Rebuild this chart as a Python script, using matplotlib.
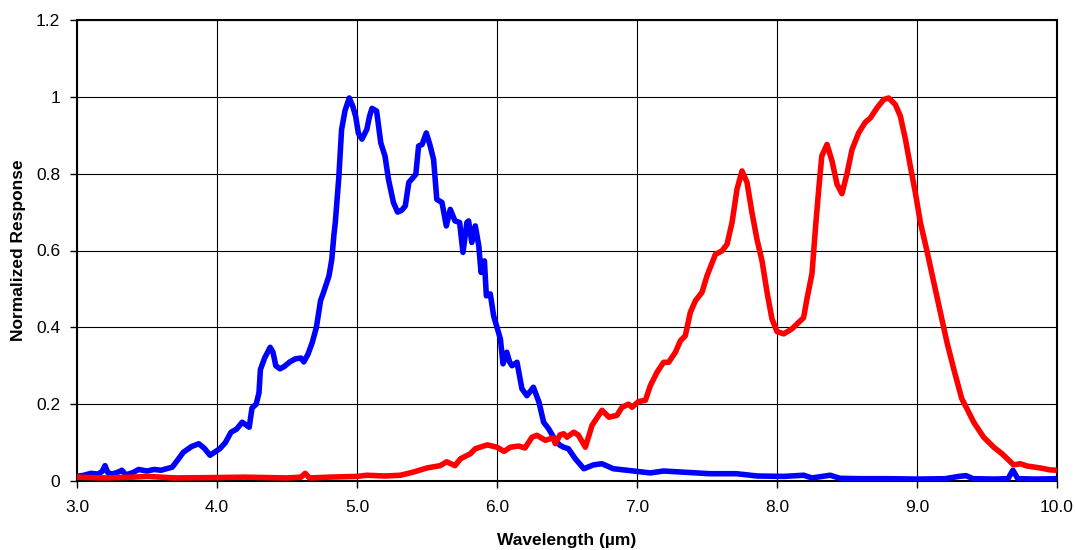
import matplotlib
matplotlib.use("Agg")
import matplotlib.pyplot as plt

plt.rcParams['font.family'] = ['Liberation Sans', 'DejaVu Sans']

blue_x = [3.00, 3.05, 3.10, 3.15, 3.18, 3.20, 3.22, 3.25, 3.30, 3.32, 3.35, 3.40, 3.44, 3.50, 3.55,
          3.60, 3.68, 3.72, 3.76, 3.82, 3.87, 3.91, 3.95, 4.02, 4.06, 4.10, 4.14, 4.18, 4.23, 4.25,
          4.28, 4.30, 4.31, 4.34, 4.38, 4.40, 4.42, 4.45, 4.48, 4.52, 4.56, 4.60, 4.62, 4.65, 4.68,
          4.71, 4.74, 4.76, 4.80, 4.82, 4.835, 4.845, 4.87, 4.89, 4.915, 4.945, 4.97, 4.99, 5.01,
          5.035, 5.07, 5.09, 5.107, 5.14, 5.17, 5.20, 5.225, 5.26, 5.29, 5.32, 5.345, 5.37, 5.42,
          5.44, 5.465, 5.495, 5.52, 5.547, 5.57, 5.607, 5.638, 5.666, 5.70, 5.733, 5.757, 5.785,
          5.797, 5.82, 5.845, 5.87, 5.886, 5.91, 5.924, 5.952, 5.976, 6.00, 6.024, 6.043, 6.07,
          6.09, 6.107, 6.143, 6.178, 6.214, 6.26, 6.30, 6.333, 6.369, 6.416, 6.45, 6.476, 6.51,
          6.559, 6.62, 6.69, 6.75, 6.83, 6.93, 7.00, 7.095, 7.19, 7.33, 7.52, 7.71, 7.86, 8.05,
          8.19, 8.25, 8.38, 8.45, 8.6, 8.8, 9.0, 9.2, 9.30, 9.35, 9.40, 9.55, 9.65, 9.685, 9.72,
          9.85, 10.0]
blue_y = [0.012, 0.015, 0.020, 0.018, 0.025, 0.040, 0.022, 0.018, 0.024, 0.028, 0.016, 0.022, 0.030,
          0.026, 0.030, 0.028, 0.036, 0.055, 0.075, 0.090, 0.097, 0.085, 0.067, 0.084, 0.100, 0.127,
          0.135, 0.153, 0.140, 0.190, 0.200, 0.230, 0.290, 0.320, 0.348, 0.335, 0.300, 0.292, 0.298,
          0.310, 0.318, 0.320, 0.310, 0.330, 0.360, 0.400, 0.470, 0.490, 0.534, 0.577, 0.640, 0.673,
          0.790, 0.915, 0.965, 0.997, 0.975, 0.950, 0.905, 0.890, 0.915, 0.950, 0.970, 0.963, 0.880,
          0.846, 0.785, 0.725, 0.700, 0.705, 0.716, 0.777, 0.798, 0.872, 0.876, 0.906, 0.876, 0.837,
          0.733, 0.725, 0.664, 0.707, 0.677, 0.673, 0.595, 0.673, 0.677, 0.621, 0.664, 0.612, 0.543,
          0.573, 0.482, 0.487, 0.430, 0.400, 0.370, 0.305, 0.335, 0.310, 0.300, 0.309, 0.240, 0.222,
          0.244, 0.205, 0.153, 0.136, 0.106, 0.093, 0.088, 0.084, 0.058, 0.032, 0.042, 0.045, 0.032,
          0.028, 0.025, 0.021, 0.026, 0.023, 0.019, 0.019, 0.013, 0.012, 0.015, 0.008, 0.015, 0.007,
          0.006, 0.006, 0.005, 0.006, 0.012, 0.014, 0.006, 0.005, 0.006, 0.028, 0.006, 0.005, 0.006]

red_x = [3.00, 3.2, 3.4, 3.5, 3.7, 4.0, 4.2, 4.5, 4.6, 4.63, 4.66, 4.8, 5.0, 5.07, 5.2, 5.31, 5.40,
         5.50, 5.595, 5.64, 5.70, 5.74, 5.81, 5.845, 5.93, 6.00, 6.05, 6.095, 6.155, 6.20, 6.25,
         6.285, 6.345, 6.40, 6.417, 6.45, 6.476, 6.50, 6.548, 6.58, 6.631, 6.679, 6.75, 6.80, 6.857,
         6.893, 6.94, 6.964, 7.012, 7.06, 7.095, 7.143, 7.19, 7.226, 7.274, 7.31, 7.345, 7.381,
         7.417, 7.464, 7.50, 7.56, 7.607, 7.643, 7.679, 7.714, 7.75, 7.786, 7.821, 7.857, 7.893,
         7.929, 7.964, 8.00, 8.048, 8.107, 8.155, 8.19, 8.214, 8.25, 8.274, 8.298, 8.32, 8.357,
         8.393, 8.429, 8.464, 8.50, 8.536, 8.583, 8.631, 8.667, 8.714, 8.762, 8.798, 8.845, 8.881,
         8.917, 8.952, 8.988, 9.024, 9.071, 9.12, 9.167, 9.214, 9.262, 9.32, 9.357, 9.405, 9.476,
         9.548, 9.607, 9.69, 9.738, 9.786, 9.88, 9.95, 10.0]
red_y = [0.010, 0.008, 0.010, 0.012, 0.008, 0.009, 0.010, 0.008, 0.010, 0.020, 0.008, 0.010, 0.012,
         0.015, 0.013, 0.015, 0.023, 0.034, 0.040, 0.050, 0.040, 0.058, 0.071, 0.084, 0.094, 0.088,
         0.077, 0.088, 0.091, 0.086, 0.114, 0.119, 0.106, 0.112, 0.097, 0.120, 0.123, 0.114, 0.127,
         0.120, 0.088, 0.145, 0.184, 0.166, 0.171, 0.192, 0.200, 0.192, 0.207, 0.210, 0.248, 0.283,
         0.309, 0.309, 0.335, 0.365, 0.378, 0.439, 0.469, 0.491, 0.534, 0.590, 0.599, 0.616, 0.673,
         0.759, 0.807, 0.777, 0.699, 0.629, 0.573, 0.491, 0.422, 0.389, 0.383, 0.396, 0.413, 0.425,
         0.474, 0.540, 0.655, 0.759, 0.846, 0.876, 0.833, 0.772, 0.748, 0.800, 0.863, 0.906, 0.934,
         0.945, 0.971, 0.993, 0.997, 0.980, 0.950, 0.890, 0.820, 0.751, 0.673, 0.599, 0.517, 0.439,
         0.361, 0.292, 0.214, 0.188, 0.153, 0.114, 0.088, 0.071, 0.042, 0.045, 0.039, 0.034, 0.029,
         0.028]

x_ticks = [3.0, 4.0, 5.0, 6.0, 7.0, 8.0, 9.0, 10.0]
x_tick_labels = ["3.0", "4.0", "5.0", "6.0", "7.0", "8.0", "9.0", "10.0"]
y_ticks = [0, 0.2, 0.4, 0.6, 0.8, 1.0, 1.2]
y_tick_labels = ["0", "0.2", "0.4", "0.6", "0.8", "1", "1.2"]

fig = plt.figure(figsize=(10.75, 5.5), dpi=100)
ax = fig.add_axes([77/1075, 1-481/550, (1057-77)/1075, (481-20)/550])

ax.plot(blue_x, blue_y, color='#0000FF', lw=4.0, solid_joinstyle='round', solid_capstyle='round', zorder=3)
ax.plot(red_x, red_y, color='#FF0000', lw=4.0, solid_joinstyle='round', solid_capstyle='round', zorder=4)

ax.set_xlim(3.0, 10.0)
ax.set_ylim(0, 1.2)
ax.set_xticks(x_ticks)
ax.set_xticklabels(x_tick_labels)
ax.set_yticks(y_ticks)
ax.set_yticklabels(y_tick_labels)
ax.grid(True, color='black', lw=0.8, zorder=1)
ax.set_axisbelow(True)
for s in ax.spines.values():
    s.set_linewidth(1.5)
    s.set_color('black')
ax.tick_params(axis='both', direction='out', length=5, width=1, labelsize=12.5, colors='black')
ax.tick_params(axis='y', pad=7)
ax.tick_params(axis='x', pad=8.5)

ax.set_xlabel("Wavelength (µm)", fontsize=12.5, fontweight='bold', labelpad=13)
ax.set_ylabel("Normalized Response", fontsize=12.5, fontweight='bold', labelpad=7)

fig.savefig("out.png", dpi=100)
